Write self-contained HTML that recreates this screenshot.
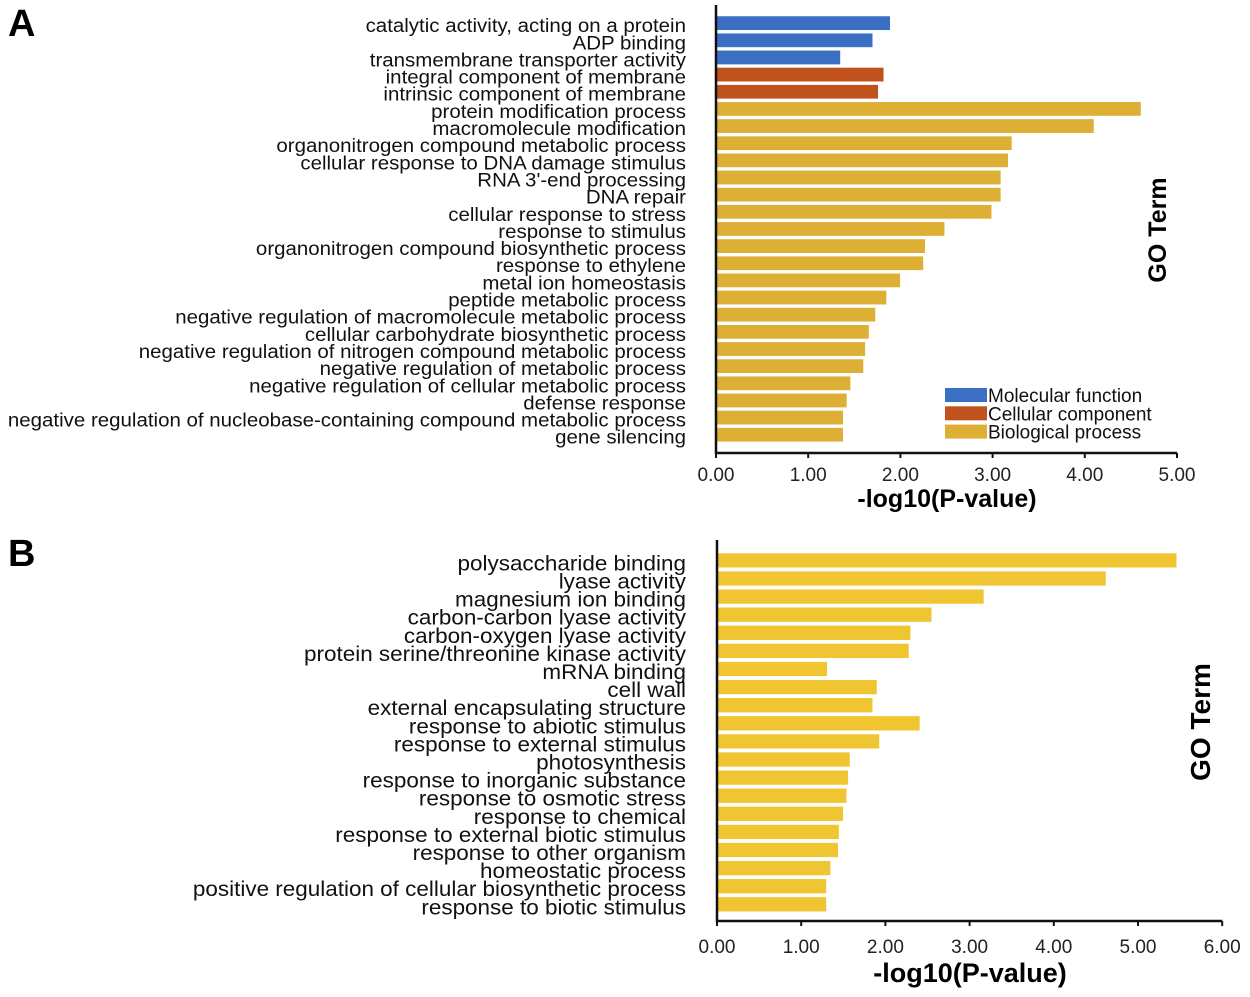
<!DOCTYPE html>
<html><head><meta charset="utf-8"><style>
body{margin:0;background:#fff;}
svg{display:block;font-family:"Liberation Sans",sans-serif;}
</style></head><body>
<svg id="chart" width="1250" height="997" xmlns="http://www.w3.org/2000/svg">
<text x="8" y="36" font-size="38" font-weight="bold">A</text>
<text x="8" y="566" font-size="38" font-weight="bold">B</text>
<g id="pa"></g>
<g id="pb"></g>
</svg>
<script>
const catsA=["catalytic activity, acting on a protein","ADP binding","transmembrane transporter activity","integral component of membrane","intrinsic component of membrane","protein modification process","macromolecule modification","organonitrogen compound metabolic process","cellular response to DNA damage stimulus","RNA 3'-end processing","DNA repair","cellular response to stress","response to stimulus","organonitrogen compound biosynthetic process","response to ethylene","metal ion homeostasis","peptide metabolic process","negative regulation of macromolecule metabolic process","cellular carbohydrate biosynthetic process","negative regulation of nitrogen compound metabolic process","negative regulation of metabolic process","negative regulation of cellular metabolic process","defense response","negative regulation of nucleobase-containing compound metabolic process","gene silencing"];
const valsA=[1.89,1.70,1.35,1.82,1.76,4.61,4.10,3.21,3.17,3.09,3.09,2.99,2.48,2.27,2.25,2.00,1.85,1.73,1.66,1.62,1.60,1.46,1.42,1.38,1.38];
const groupA=["MF","MF","MF","CC","CC","BP","BP","BP","BP","BP","BP","BP","BP","BP","BP","BP","BP","BP","BP","BP","BP","BP","BP","BP","BP"];
const ticksA=["0.00","1.00","2.00","3.00","4.00","5.00"];
const legendA=["Molecular function","Cellular component","Biological process"];
const catsB=["polysaccharide binding","lyase activity","magnesium ion binding","carbon-carbon lyase activity","carbon-oxygen lyase activity","protein serine/threonine kinase activity","mRNA binding","cell wall","external encapsulating structure","response to abiotic stimulus","response to external stimulus","photosynthesis","response to inorganic substance","response to osmotic stress","response to chemical","response to external biotic stimulus","response to other organism","homeostatic process","positive regulation of cellular biosynthetic process","response to biotic stimulus"];
const valsB=[5.46,4.62,3.17,2.55,2.30,2.28,1.31,1.90,1.85,2.41,1.93,1.58,1.56,1.54,1.50,1.45,1.44,1.35,1.30,1.30];
const ticksB=["0.00","1.00","2.00","3.00","4.00","5.00","6.00"];
const NS="http://www.w3.org/2000/svg";
const colors={MF:"#3a6fc4",CC:"#c0521e",BP:"#ddb035"};
function mk(parent,tag,attrs,text){const e=document.createElementNS(NS,tag);for(const k in attrs)e.setAttribute(k,attrs[k]);if(text!==undefined)e.textContent=text;parent.appendChild(e);return e;}
function panel(g,cfg){
  const x=v=>cfg.x0+v*cfg.unit;
  const y=i=>cfg.yTop+i*cfg.pitch;
  const lg=mk(g,"g",{transform:`translate(686,0) scale(${cfg.lsx},1) translate(-686,0)`});
  
  
  cfg.cats.forEach((c,i)=>{
    const r=mk(g,"rect",{x:x(0),y:y(i),width:x(cfg.vals[i])-x(0),height:cfg.bh,fill:cfg.color(i),stroke:"#fff","stroke-width":0.5});
    
    
    const t=mk(lg,"text",{x:686,y:y(i)+cfg.bh/2+cfg.ldy,"text-anchor":"end","font-size":cfg.lfs,fill:"#111"},c);
    
    
  });
  const ax=mk(g,"path",{d:`M${x(0)} ${cfg.axTop} V${cfg.axY} H${x(cfg.max)}`,stroke:"#111","stroke-width":2.5,fill:"none"});
  
  
  cfg.ticks.forEach((tk,i)=>{
    const tm=mk(g,"line",{x1:x(i),x2:x(i),y1:cfg.axY,y2:cfg.axY+5,stroke:"#111","stroke-width":2});
    
    
    const tl=mk(g,"text",{x:x(i),y:cfg.axY+cfg.tdy,"text-anchor":"middle","font-size":19,fill:"#222"},tk);
    
    
  });
  const xt=mk(g,"text",{x:cfg.xtX,y:cfg.axY+cfg.xdy,"text-anchor":"middle","font-size":cfg.tfs,"font-weight":"bold"},"-log10(P-value)");
  
  
  const yt=mk(g,"text",{x:0,y:0,"text-anchor":"middle","font-size":cfg.gfs,"font-weight":"bold",transform:`translate(${cfg.goX},${cfg.goY}) rotate(-90)`},"GO Term");
  
  
}
const ga=document.getElementById("pa");
panel(ga,{cats:catsA,vals:valsA,ticks:ticksA,max:5,x0:716,unit:92.2,yTop:16,pitch:17.15,bh:14.3,axTop:5,axY:453,color:i=>colors[groupA[i]],xtX:947,tfs:25,goX:1166,goY:230,gfs:25,lfs:19.5,lsx:1.05,ldy:9,tdy:28,xdy:54});
const keys=["MF","CC","BP"];
legendA.forEach((l,i)=>{
  const r=mk(ga,"rect",{x:945,y:388+i*18.3,width:42,height:14,fill:colors[keys[i]]});
  
  
  const t=mk(ga,"text",{x:988,y:402+i*18.3,"font-size":19,fill:"#111"},l);
  
  
});
panel(document.getElementById("pb"),{cats:catsB,vals:valsB,ticks:ticksB,max:6,x0:717,unit:84.2,yTop:553,pitch:18.1,bh:14.8,axTop:540,axY:921,color:()=>"#efc531",xtX:970,tfs:27,goX:1210,goY:722,gfs:28,lfs:21,lsx:1.07,ldy:10,tdy:32,xdy:61});
</script>
</body></html>
